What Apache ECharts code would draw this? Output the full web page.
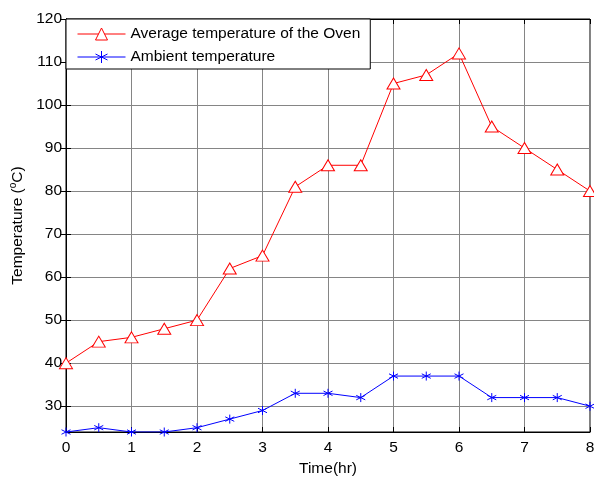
<!DOCTYPE html>
<html>
<head>
<meta charset="utf-8">
<script src="https://cdn.jsdelivr.net/npm/echarts@6/dist/echarts.min.js"></script>
<style>
  html, body { margin: 0; padding: 0; background: #fff; }
  #main { width: 594px; height: 478px; }
</style>
</head>
<body>
<div id="main"></div>
<script>
  var hours = [0, 0.5, 1, 1.5, 2, 2.5, 3, 3.5, 4, 4.5, 5, 5.5, 6, 6.5, 7, 7.5, 8];
  var ovenTem = [40, 45, 46, 48, 50, 62, 65, 81, 86, 86, 105, 107, 112, 95, 90, 85, 80];
  var ambientTem = [24, 25, 24, 24, 25, 27, 29, 33, 33, 32, 37, 37, 37, 32, 32, 32, 30];
  var yTicks = [30, 40, 50, 60, 70, 80, 90, 100, 110, 120];

  function pairs(xs, ys) {
    var arr = [];
    for (var i = 0; i < xs.length; i++) {
      arr.push([xs[i], ys[i]]);
    }
    return arr;
  }

  var font = 'Liberation Sans, Arial, sans-serif';
  var fs = 15.5;
  var star = 'path://M0,-1L0,1M-0.87,-0.5L0.87,0.5M-0.87,0.5L0.87,-0.5';

  var myChart = echarts.init(document.getElementById('main'));
  myChart.setOption({
    animation: false,
    grid: {
      left: 66, right: 4, top: 19, bottom: 46,
      outerBoundsMode: 'none',
      show: true, borderColor: '#000', borderWidth: 1
    },
    legend: {
      left: 66, top: 19,
      orient: 'vertical',
      itemWidth: 48, itemHeight: 15, itemGap: 7,
      padding: [7, 10, 4, 11],
      backgroundColor: '#fff',
      borderColor: '#000', borderWidth: 1,
      itemStyle: {borderWidth: 1},
      lineStyle: {width: 1},
      textStyle: {fontFamily: font, fontSize: fs, color: '#000'},
      data: ['Average temperature of the Oven', 'Ambient temperature']
    },
    xAxis: [{
      type: 'value', min: 0, max: 8, interval: 1,
      name: 'Time(hr)', nameLocation: 'middle', nameGap: 27,
      nameTextStyle: {fontFamily: font, fontSize: fs, color: '#000'},
      axisLine: {lineStyle: {color: '#000'}},
      axisTick: {inside: true, length: 5, lineStyle: {color: '#000'}},
      axisLabel: {fontFamily: font, fontSize: fs, color: '#000', margin: 8},
      splitLine: {show: true, lineStyle: {color: '#858585', width: 1}}
    }, {
      type: 'value', min: 0, max: 8, interval: 1, position: 'top',
      axisLine: {show: true, lineStyle: {color: '#000'}},
      axisTick: {inside: true, length: 5, lineStyle: {color: '#000'}},
      axisLabel: {show: false},
      splitLine: {show: false}
    }],
    yAxis: [{
      type: 'value', min: 24, max: 120,
      name: '{n|Temperature (}{s|o}{n|C)}', nameLocation: 'middle', nameGap: 34,
      nameTextStyle: {
        rich: {
          n: {fontFamily: font, fontSize: fs, color: '#000'},
          s: {fontFamily: font, fontSize: 10, color: '#000', verticalAlign: 'top', padding: [0, 0, 7, 0]}
        }
      },
      axisLine: {show: true, lineStyle: {color: '#000'}},
      axisTick: {inside: true, length: 5, lineStyle: {color: '#000'}, customValues: yTicks},
      axisLabel: {fontFamily: font, fontSize: fs, color: '#000', margin: 4, customValues: yTicks},
      splitLine: {show: true, lineStyle: {color: '#858585', width: 1}}
    }, {
      type: 'value', min: 24, max: 120, position: 'right',
      axisLine: {show: true, lineStyle: {color: '#000'}},
      axisTick: {inside: true, length: 5, lineStyle: {color: '#000'}, customValues: yTicks},
      axisLabel: {show: false, customValues: yTicks},
      splitLine: {show: false}
    }],
    series: [{
      name: 'Average temperature of the Oven',
      type: 'line',
      data: pairs(hours, ovenTem),
      symbol: 'triangle', symbolSize: [13, 11],
      lineStyle: {color: '#ff0000', width: 1},
      itemStyle: {color: '#fff', borderColor: '#ff0000', borderWidth: 1}
    }, {
      name: 'Ambient temperature',
      type: 'line',
      data: pairs(hours, ambientTem),
      symbol: star, symbolSize: 9,
      lineStyle: {color: '#0000ff', width: 1},
      itemStyle: {color: '#0000ff', borderColor: '#0000ff', borderWidth: 1}
    }]
  });
</script>
</body>
</html>
